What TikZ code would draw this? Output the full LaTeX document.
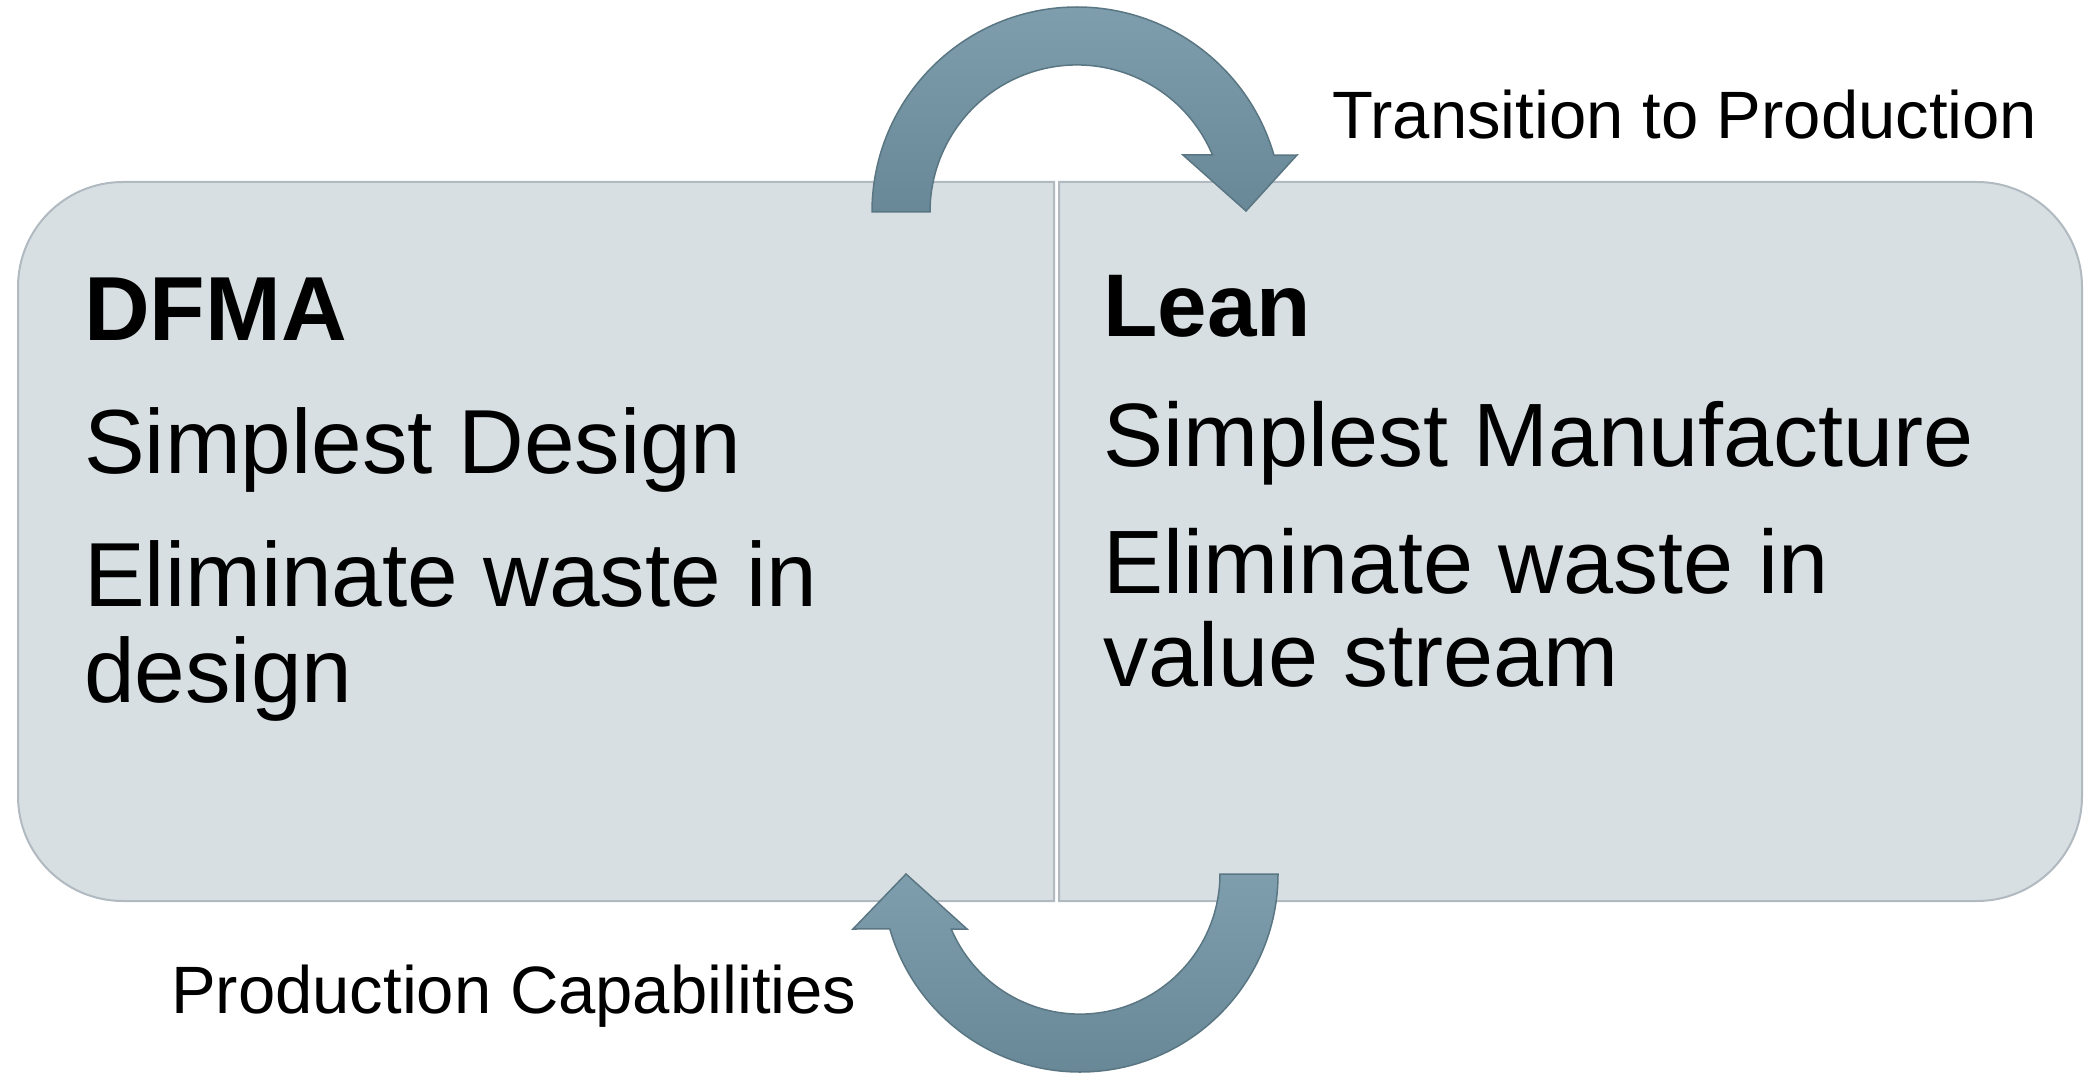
\documentclass[tikz,border=0pt]{standalone}
\usepackage{fontspec}
\setmainfont{Liberation Sans}
\definecolor{boxfill}{RGB}{216,223,227}
\definecolor{boxline}{RGB}{176,186,192}
\definecolor{arrowlight}{RGB}{126,158,173}
\definecolor{arrowdark}{RGB}{104,136,151}
\definecolor{arrowline}{RGB}{90,118,131}
\begin{document}
\begin{tikzpicture}[x=1pt,y=-1pt,
  panel/.style={fill=boxfill, draw=boxline, line width=2pt},
  bendarrow/.style={draw=arrowline, line width=1.5pt, top color=arrowlight, bottom color=arrowdark},
  maintext/.style={anchor=base west, inner sep=0pt, font=\fontsize{91}{96}\selectfont},
  rmaintext/.style={anchor=base west, inner sep=0pt, font=\fontsize{90}{96}\selectfont},
  headtext/.style={anchor=base west, inner sep=0pt, font=\fontsize{91}{96}\selectfont\bfseries},
  rheadtext/.style={anchor=base west, inner sep=0pt, font=\fontsize{89}{96}\selectfont\bfseries},
  labeltext/.style={anchor=base west, inner sep=0pt, font=\fontsize{67}{72}\selectfont}]
\useasboundingbox (0,0) rectangle (2084,1075);
% panels
\path[panel] (1054,182) -- (123,182) arc[start angle=270, end angle=180, radius=105]
  -- (18,796) arc[start angle=180, end angle=90, radius=105] -- (1054,901) -- cycle;
\path[panel] (1059,182) -- (1977,182) arc[start angle=270, end angle=360, radius=105]
  -- (2082,796) arc[start angle=0, end angle=90, radius=105] -- (1059,901) -- cycle;
% curved arrows
\path[bendarrow] (872,212) arc[start angle=180, end angle=343.9, radius=205]
  -- (1297,155) -- (1246,211) -- (1183,155) -- (1212.5,155)
  arc[start angle=337.2, end angle=180, radius=147] -- cycle;
\path[bendarrow] (1278,874) arc[start angle=0, end angle=163.9, radius=198]
  -- (853,929) -- (906,874) -- (967,929) -- (951.2,929)
  arc[start angle=156.9, end angle=0, radius=140] -- cycle;
% left panel text
\node[headtext] (dfma) at (84,340) {DFMA};
\node[maintext] (lsd) at (84,473) {Simplest Design};
\node[maintext] (lew) at (84,606) {Eliminate waste in};
\node[maintext] (lds) at (84,702) {design};
% right panel text
\node[rheadtext] (lean) at (1103,336) {Lean};
\node[rmaintext] (rsm) at (1103,466) {Simplest Manufacture};
\node[rmaintext] (rew) at (1103,593) {Eliminate waste in};
\node[rmaintext] (rvs) at (1103,686) {value stream};
% arrow labels
\node[labeltext] (ttp) at (1332,139) {Transition to Production};
\node[labeltext] (pc) at (171,1013) {Production Capabilities};
\end{tikzpicture}
\end{document}
